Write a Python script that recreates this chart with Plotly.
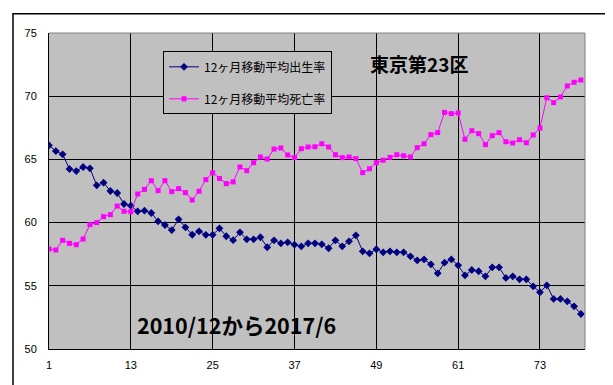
import plotly.graph_objects as go

months = list(range(1, 80))
birth_rate = [
    66.11, 65.66, 65.40, 64.24, 64.08, 64.40, 64.29, 62.95, 63.16, 62.50,
    62.34, 61.47, 61.34, 60.89, 60.94, 60.76, 60.10, 59.81, 59.41, 60.26,
    59.63, 59.04, 59.31, 59.03, 59.03, 59.55, 58.92, 58.61, 59.23, 58.68,
    58.68, 58.84, 58.05, 58.60, 58.36, 58.44, 58.25, 58.12, 58.36, 58.36,
    58.28, 57.97, 58.60, 58.12, 58.52, 58.99, 57.73, 57.57, 57.89, 57.65,
    57.73, 57.65, 57.65, 57.33, 57.01, 57.09, 56.70, 55.99, 56.83, 57.09,
    56.62, 55.83, 56.25, 56.15, 55.75, 56.46, 56.46, 55.62, 55.75, 55.51,
    55.51, 54.96, 54.49, 55.04, 53.96, 53.96, 53.77, 53.38, 52.77,
]
death_rate = [
    57.91, 57.83, 58.60, 58.36, 58.25, 58.70, 59.84, 60.00, 60.47, 60.63,
    61.31, 60.89, 60.86, 62.26, 62.63, 63.32, 62.53, 63.32, 62.45, 62.69,
    62.37, 61.79, 62.48, 63.40, 63.94, 63.49, 63.08, 63.22, 64.40, 64.11,
    64.74, 65.19, 65.03, 65.82, 65.90, 65.35, 65.14, 65.85, 65.98, 66.00,
    66.24, 65.98, 65.37, 65.14, 65.19, 65.06, 63.95, 64.26, 64.74, 64.94,
    65.16, 65.37, 65.29, 65.19, 65.93, 66.24, 66.96, 67.12, 68.72, 68.62,
    68.67, 66.59, 67.27, 67.04, 66.17, 66.88, 67.12, 66.40, 66.30, 66.56,
    66.32, 66.93, 67.48, 69.88, 69.49, 69.94, 70.81, 71.10, 71.28,
]
x_ticks = [1, 13, 25, 37, 49, 61, 73]
birth_name = "12ヶ月移動平均出生率"
death_name = "12ヶ月移動平均死亡率"
title_text = "東京第23区"
period_text = "2010/12から2017/6"

fig = go.Figure()
fig.add_trace(go.Scatter(
    x=months, y=birth_rate, name=birth_name, mode="lines+markers",
    line=dict(color="#000080", width=1),
    marker=dict(symbol="diamond", size=6, color="#000080"),
    legendgroup="a",
))
fig.add_trace(go.Scatter(
    x=months, y=death_rate, name=death_name, mode="lines+markers",
    line=dict(color="#FF00FF", width=1),
    marker=dict(symbol="square", size=5, color="#FF00FF"),
    legendgroup="b",
))

tick_font = dict(family="Liberation Sans, Arial, sans-serif", size=11, color="black")

fig.update_layout(
    width=613, height=385,
    margin=dict(l=41, r=36, t=25, b=44),
    paper_bgcolor="white",
    plot_bgcolor="#C0C0C0",
    font=dict(family="Noto Sans CJK JP, Liberation Sans, sans-serif", color="black"),
    showlegend=True,
    legend=dict(
        x=0.2127, y=0.942, xanchor="left", yanchor="top",
        bgcolor="#C0C0C0", bordercolor="black", borderwidth=1,
        font=dict(size=12, family="Noto Sans CJK JP"),
        tracegroupgap=13, itemwidth=30,
    ),
    xaxis=dict(
        range=[1, 79.6], tickvals=x_ticks, showgrid=True, gridcolor="black", gridwidth=1,
        showline=True, linecolor="black", linewidth=1, mirror=False,
        zeroline=False, ticks="outside", ticklen=6, tickcolor="rgba(0,0,0,0)", tickfont=tick_font,
    ),
    yaxis=dict(
        range=[50, 75], dtick=5, showgrid=True, gridcolor="black", gridwidth=1,
        showline=True, linecolor="black", linewidth=1,
        zeroline=False, ticks="outside", ticklen=9, tickcolor="rgba(0,0,0,0)",
        tickfont=tick_font,
    ),
    shapes=[
        dict(type="rect", xref="paper", yref="paper", x0=-0.0672, x1=1.0554, y0=-0.1193, y1=1.0611,
             line=dict(color="black", width=1.5), fillcolor="rgba(0,0,0,0)", layer="below"),
        dict(type="line", xref="paper", yref="paper", x0=0, x1=1, y0=1, y1=1,
             line=dict(color="#808080", width=1)),
        dict(type="line", xref="paper", yref="paper", x0=1, x1=1, y0=0, y1=1,
             line=dict(color="#808080", width=1)),
    ],
    annotations=[
        dict(text="<b>" + title_text + "</b>", xref="paper", yref="paper", x=0.691, y=0.905, showarrow=False,
             font=dict(size=19, family="Noto Sans CJK JP", color="black"), xanchor="center", yanchor="middle"),
        dict(text="<b>" + period_text + "</b>", xref="paper", yref="paper", x=0.349, y=0.077, showarrow=False,
             font=dict(size=21.5, family="Noto Sans CJK JP", color="black"), xanchor="center", yanchor="middle"),
    ],
)

fig.write_html("out.html")
